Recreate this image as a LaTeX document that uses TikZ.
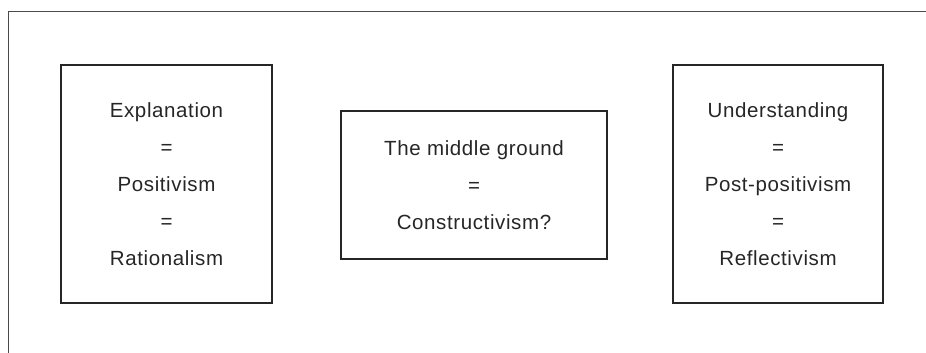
\documentclass[tikz,border=0pt]{standalone}
\usepackage{fontspec}
\setmainfont{Liberation Sans}
\newfontfamily\boxfont[LetterSpace=3]{Liberation Sans}
\definecolor{ink}{HTML}{262626}
\definecolor{frame}{HTML}{4A4A4A}
\begin{document}
\begin{tikzpicture}[x=1pt,y=-1pt,
  conceptbox/.style={draw=ink, line width=2.3pt, align=center, text=ink,
    inner sep=0pt, font=\boxfont\fontsize{20.5}{37}\selectfont},
  outerframe/.style={draw=frame, line width=1.1pt}]
\useasboundingbox (0,0) rectangle (926,353);
\coordinate (ftr) at (926,11.5);
\coordinate (ftl) at (8.5,11.5);
\coordinate (fbl) at (8.5,353);
\draw[outerframe] (ftr) -- (ftl) -- (fbl);
\node[conceptbox, minimum width=211pt, minimum height=238pt] (left) at (166.5,184)
  {Explanation\\=\\Positivism\\=\\Rationalism};
\node[conceptbox, minimum width=266pt, minimum height=148pt] (mid) at (474,185)
  {The middle ground\\=\\Constructivism?};
\node[conceptbox, minimum width=210pt, minimum height=238pt] (right) at (778,184)
  {Understanding\\=\\Post-positivism\\=\\Reflectivism};
\end{tikzpicture}
\end{document}
